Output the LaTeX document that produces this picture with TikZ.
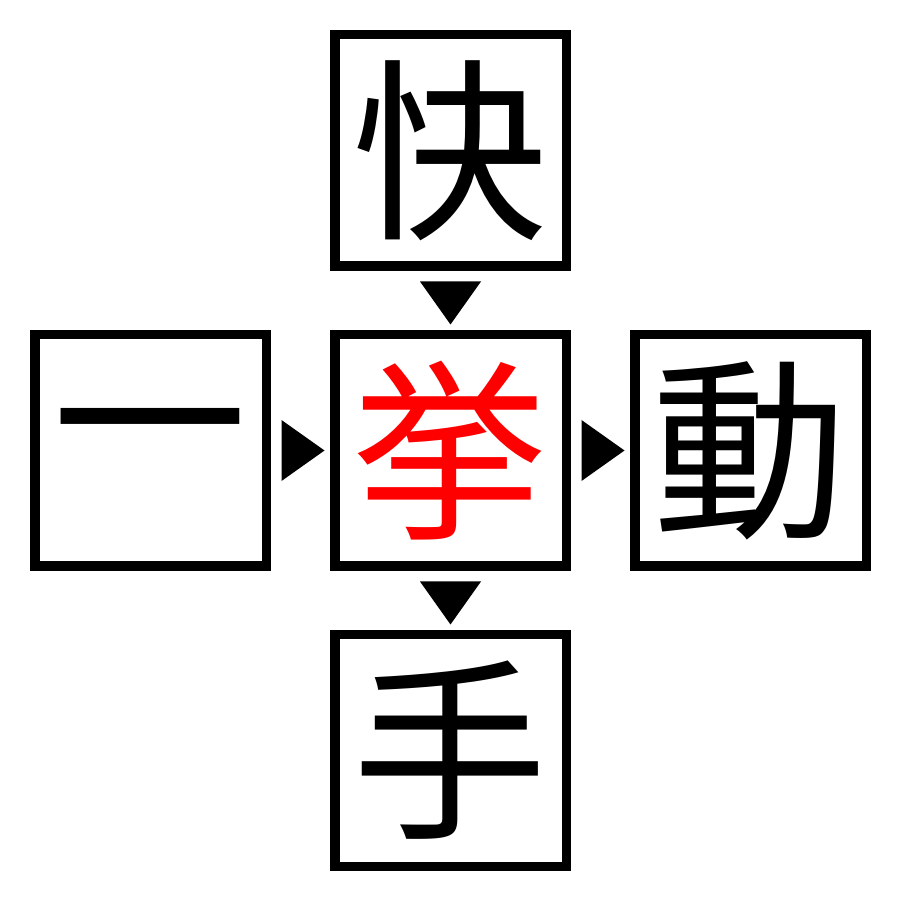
\documentclass[tikz,border=0pt]{standalone}
\usepackage{fontspec}
\newfontfamily\jpfont{Noto Sans CJK JP}
\usetikzlibrary{positioning,calc}
\definecolor{kanjired}{rgb}{1,0,0}

\begin{document}
\begin{tikzpicture}[line join=miter, line width=0.095cm]

	\tikzstyle{kanji}=[draw, minimum size=2.315cm, inner sep=0pt, font=\jpfont\fontsize{55.5}{55.5}\selectfont]
    \def\gap{0.59}
    \def\tw{0.305}
    \def\tb{0.19}
    \def\tt{0.24}

    \useasboundingbox (0,0) rectangle (9,9);

    \node[kanji, text=kanjired] (mid) at (4.505,4.495) {挙};
    \node[kanji, above=\gap of mid] (up) {快};
    \node[kanji, left=\gap of mid] (left) {一};
    \node[kanji, right=\gap of mid] (right) {動};
    \node[kanji, below=\gap of mid] (down) {手};

    % markers between the boxes
    \fill ($(up.south)!0.5!(mid.north)$) ++(-\tw,\tb) -- ++(2*\tw,0) -- ++(-\tw,-\tb-\tt) -- cycle;
    \fill ($(mid.south)!0.5!(down.north)$) ++(-\tw,\tb) -- ++(2*\tw,0) -- ++(-\tw,-\tb-\tt) -- cycle;
    \fill ($(left.east)!0.5!(mid.west)$) ++(-\tb,\tw) -- ++(0,-2*\tw) -- ++(\tb+\tt,\tw) -- cycle;
    \fill ($(mid.east)!0.5!(right.west)$) ++(-\tb,\tw) -- ++(0,-2*\tw) -- ++(\tb+\tt,\tw) -- cycle;

  \end{tikzpicture}
\end{document}
